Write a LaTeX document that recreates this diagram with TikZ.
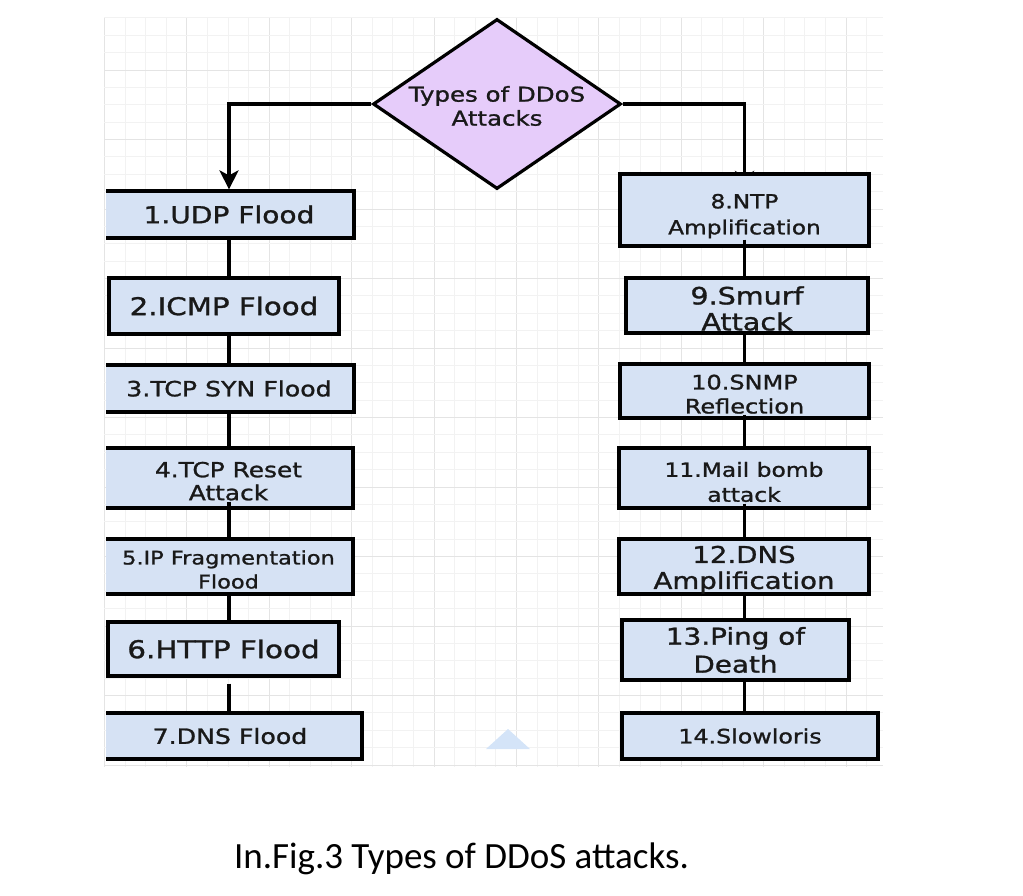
\documentclass[tikz,border=0pt]{standalone}
\usepackage{fontspec}
\usetikzlibrary{shapes.geometric,arrows.meta}
\newfontfamily\sk[FakeStretch=1.2,FakeBold=1.2]{DejaVu Sans}
\newfontfamily\capfont{Carlito}
\newcommand\fsz[2]{\fontsize{#1}{#2}\selectfont}
\newcommand\lo[1]{\rule{0pt}{#1pt}}
\definecolor{boxblue}{HTML}{D6E2F4}
\definecolor{lilac}{HTML}{E6CCFA}
\definecolor{gridminor}{HTML}{F2F2F2}
\definecolor{gridmajor}{HTML}{E4E4E4}
\definecolor{hoverblue}{HTML}{D4E4F8}
\tikzset{
  box/.style={draw=black, line width=3.2pt, fill=boxblue, inner sep=0pt, align=center, text=black!90},
  decision/.style={diamond, draw=black, line width=3.2pt, fill=lilac, inner sep=0pt, aspect=1.46, align=center, text=black!90},
  conn/.style={line width=3.2pt, draw=black},
  arr/.style={line width=3.2pt, draw=black, -{Stealth[length=19pt,width=19pt,inset=5pt]}},
}
\begin{document}
\begin{tikzpicture}[x=1pt,y=-1pt]
\useasboundingbox (0,0) rectangle (1023,895);
% grid
\foreach \k in {0,...,37}{
  \pgfmathsetmacro\gx{104.4+20.6*\k}
  \pgfmathtruncatemacro\m{mod(\k,4)}
  \ifnum\m=0 \draw[gridmajor, line width=1pt] (\gx,18) -- (\gx,767);
  \else \draw[gridminor, line width=1pt] (\gx,18) -- (\gx,767); \fi
}
\foreach \k in {1,...,44}{
  \pgfmathsetmacro\gy{0.5+17.375*\k}
  \pgfmathtruncatemacro\m{mod(\k,4)}
  \ifnum\m=0 \draw[gridmajor, line width=1pt] (104,\gy) -- (883,\gy);
  \else \draw[gridminor, line width=1pt] (104,\gy) -- (883,\gy); \fi
}
% hover triangle
\fill[hoverblue] (486,749) -- (508,729) -- (530,749) -- cycle;

\begin{scope}
\clip (106,0) rectangle (1023,895);
% decision
\node[decision, minimum width=248, minimum height=170, font=\sk\fsz{20.4}{24}] (d) at (497,104) {\lo{19.5}Types of DDoS\\Attacks};

% right arrow (tip hidden behind box 8)
\draw[arr, shorten >=-16pt] (d.east) -| (744.5,174);

% right column boxes
\node[box, minimum width=249, minimum height=72, font=\sk\fsz{19.4}{26}] (b8) at (744.5,210) {\lo{26.7}8.NTP\\Amplification};
\node[box, minimum width=242, minimum height=55, font=\sk\fsz{23.8}{26}] (b9) at (747,305.5) {\lo{24.1}9.Smurf\\Attack};
\node[box, minimum width=249, minimum height=54, font=\sk\fsz{20}{24}] (b10) at (744.5,391) {\lo{21.2}10.SNMP\\Reflection};
\node[box, minimum width=250, minimum height=60, font=\sk\fsz{19.5}{25}] (b11) at (744,478) {\lo{22.8}11.Mail bomb\\attack};
\node[box, minimum width=250, minimum height=55, font=\sk\fsz{23}{26}] (b12) at (744,566.5) {\lo{23.5}12.DNS\\Amplification};
\node[box, minimum width=227, minimum height=60, font=\sk\fsz{23.2}{28}] (b13) at (735.5,650) {13.Ping of\\Death};
\node[box, minimum width=256, minimum height=46, font=\sk\fsz{19.8}{24}] (b14) at (750,736) {14.Slowloris};

% left column boxes
\node[box, minimum width=250, minimum height=47, font=\sk\fsz{23.4}{27}] (b1) at (229,214.5) {1.UDP Flood};
\node[box, minimum width=230, minimum height=56, font=\sk\fsz{24.4}{28}] (b2) at (224,306) {2.ICMP Flood};
\node[box, minimum width=250, minimum height=47, font=\sk\fsz{21}{25}] (b3) at (229,388.5) {3.TCP SYN Flood};
\node[box, minimum width=249, minimum height=60, font=\sk\fsz{20.7}{23}] (b4) at (228.5,478) {\lo{21.7}4.TCP Reset\\Attack};
\node[box, minimum width=249, minimum height=55, font=\sk\fsz{18.7}{24}] (b5) at (228.5,566.5) {\lo{20.2}5.IP Fragmentation\\Flood};
\node[box, minimum width=231, minimum height=54, font=\sk\fsz{24.5}{28}] (b6) at (223.5,649) {6.HTTP Flood};
\node[box, minimum width=264, minimum height=46, font=\sk\fsz{21}{25}] (b7) at (230,736) {7.DNS Flood};

% left arrow from decision
\draw[arr] (d.west) -| (b1.north);

% left column connectors
\draw[conn] (b1.south) -- (b1.south |- b2.north);
\draw[conn] (b2.south -| b1.south) -- (b3.north -| b1.south);
\draw[conn] (b3.south -| b1.south) -- (b4.north -| b1.south);
\draw[conn, shorten <=-8pt] (b4.south -| b1.south) -- (b5.north -| b1.south);
\draw[conn] (b5.south -| b1.south) -- (b6.north -| b1.south);
\draw[conn, shorten <=6pt] (b6.south -| b1.south) -- (b7.north -| b1.south);

% right column connectors
\draw[conn, shorten <=-8pt] (b8.south) -- (b8.south |- b9.north);
\draw[conn] (b9.south -| b8.south) -- (b10.north -| b8.south);
\draw[conn, shorten <=-5pt] (b10.south -| b8.south) -- (b11.north -| b8.south);
\draw[conn, shorten <=-6pt] (b11.south -| b8.south) -- (b12.north -| b8.south);
\draw[conn] (b12.south -| b8.south) -- (b13.north -| b8.south);
\draw[conn] (b13.south -| b8.south) -- (b14.north -| b8.south);
\end{scope}

% caption
\node[anchor=base, font=\capfont\fsz{37}{44}, text=black, inner sep=0pt] (cap) at (461.5,868) {In.Fig.3 Types of DDoS attacks.};
\end{tikzpicture}
\end{document}
